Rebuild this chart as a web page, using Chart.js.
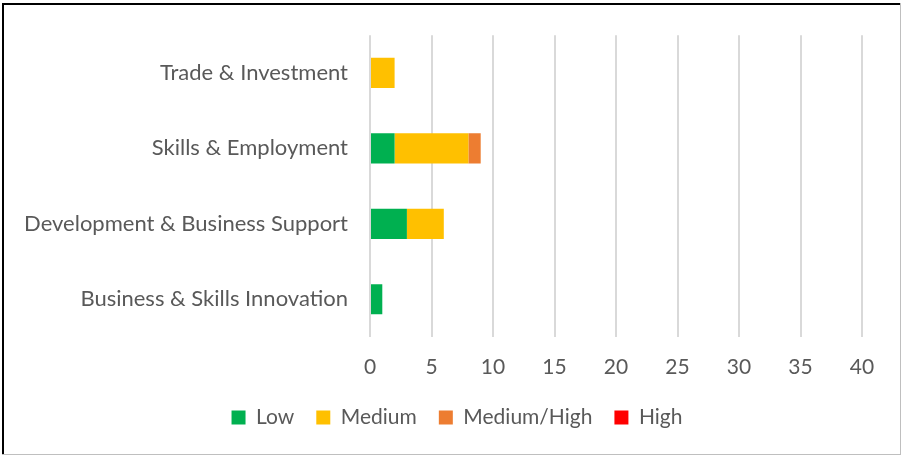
<!DOCTYPE html>
<html>
<head>
<meta charset="utf-8">
<script src="https://cdn.jsdelivr.net/npm/chart.js@4.4.0/dist/chart.umd.min.js"></script>
<style>
  html, body { margin: 0; padding: 0; background: #ffffff; }
  #wrap { position: relative; width: 902px; height: 456px; }
  #chart { position: absolute; left: 0; top: 0; }
</style>
</head>
<body>
<div id="wrap"><canvas id="chart" width="902" height="456"></canvas></div>
<script>
// Project areas (top to bottom) and counts per risk rating
const categories = [
  "Trade & Investment",
  "Skills & Employment",
  "Development & Business Support",
  "Business & Skills Innovation"
];
const lowValues        = [0, 2, 3, 1];
const mediumValues     = [2, 6, 3, 0];
const mediumHighValues = [0, 1, 0, 0];
const highValues       = [0, 0, 0, 0];
const xTicks = [0, 5, 10, 15, 20, 25, 30, 35, 40];

const FONT = "Lato, 'Open Sans', sans-serif";
const TEXT = "#595959";

// Frame around the chart: dark on top/left, light grey on right/bottom
const framePlugin = {
  id: "frame",
  beforeDraw(chart) {
    const c = chart.ctx;
    c.save();
    c.fillStyle = "#000000";
    c.fillRect(2, 3, 898, 2);
    c.fillRect(2, 3, 2, 452);
    c.fillStyle = "#bfbfbf";
    c.fillRect(900, 3, 1, 452);
    c.fillRect(2, 454, 899, 1);
    c.restore();
  }
};

function ds(label, data, color) {
  return {
    label, data,
    backgroundColor: color,
    borderWidth: 0,
    barPercentage: 0.4,
    categoryPercentage: 1.0
  };
}

new Chart(document.getElementById("chart"), {
  type: "bar",
  data: {
    labels: categories,
    datasets: [
      ds("Low", lowValues, "#00B050"),
      ds("Medium", mediumValues, "#FFC000"),
      ds("Medium/High", mediumHighValues, "#ED7D31"),
      ds("High", highValues, "#FF0000")
    ]
  },
  options: {
    indexAxis: "y",
    responsive: false,
    animation: false,
    devicePixelRatio: 1,
    layout: { padding: { top: 32, right: 0, left: 12, bottom: 18 } },
    scales: {
      x: {
        stacked: true,
        min: 0,
        max: 40,
        afterBuildTicks(scale) { scale.ticks = xTicks.map(v => ({ value: v })); },
        grid: { color: "#d9d9d9", lineWidth: 2, drawTicks: false },
        border: { display: false },
        ticks: { color: TEXT, font: { family: FONT, size: 21 }, padding: 18 },
        afterFit(scale) { scale.height = 48; }
      },
      y: {
        stacked: true,
        grid: { display: false, drawTicks: false },
        border: { display: false },
        ticks: { color: TEXT, font: { family: FONT, size: 22 }, padding: 22 },
        afterFit(scale) { scale.width = 358; }
      },
      // empty right-hand margin beside the plot
      yRight: {
        type: "category",
        position: "right",
        grid: { display: false, drawTicks: false },
        border: { display: false },
        ticks: { display: false },
        afterFit(scale) { scale.width = 40; }
      }
    },
    plugins: {
      legend: {
        position: "bottom",
        labels: {
          color: TEXT,
          font: { family: FONT, size: 21 },
          boxWidth: 14,
          boxHeight: 14,
          padding: 22
        }
      },
      tooltip: { enabled: false }
    }
  },
  plugins: [framePlugin]
});
</script>
</body>
</html>
